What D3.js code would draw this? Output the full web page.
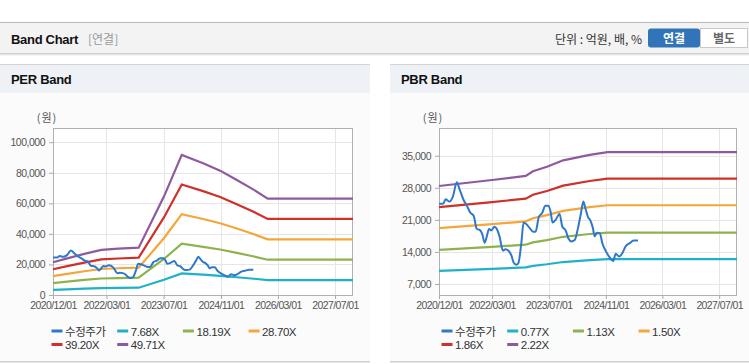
<!DOCTYPE html>
<html><head><meta charset="utf-8">
<script src="https://cdn.jsdelivr.net/npm/d3@7"></script>
<style>
body{margin:0;background:#fff;}
svg{display:block;font-family:"Liberation Sans",Arial,sans-serif;}
</style>
</head><body><svg id="c" width="749" height="364"></svg>
<script>
// ---------- DATA ----------
const xTickLabels = ["2020/12/01","2022/03/01","2023/07/01","2024/11/01","2026/03/01","2027/07/01"];
const xDomainLabels = ["2020/12/01","2027/12/01"];

const priceDates = ["2020/12/01","2021/01/05","2021/01/27","2021/03/01","2021/03/30","2021/05/03","2021/05/26","2021/06/29","2021/07/28","2021/08/26","2021/09/24","2021/10/22","2021/11/15","2021/12/07","2021/12/28","2022/01/16","2022/02/03","2022/02/22","2022/03/22","2022/04/11","2022/05/04","2022/06/02","2022/06/25","2022/07/18","2022/08/13","2022/09/02","2022/09/25","2022/10/12","2022/11/07","2022/11/27","2022/12/19","2023/01/18","2023/02/16","2023/03/09","2023/04/07","2023/05/05","2023/06/01","2023/06/28","2023/07/16","2023/08/02","2023/08/28","2023/10/01","2023/10/25","2023/11/22","2023/12/18","2024/01/10","2024/02/08","2024/03/07","2024/04/02","2024/04/22","2024/05/09","2024/06/01","2024/06/21","2024/07/13","2024/07/28","2024/08/17","2024/09/10","2024/10/02","2024/11/07","2024/12/04","2025/01/02","2025/01/25","2025/02/23","2025/03/22","2025/04/19","2025/05/24","2025/06/28","2025/08/04"];
const priceValues = [24500,24500,25500,25000,26100,29200,27700,25400,24100,22600,21900,19000,18800,17900,16000,17500,19000,18700,19500,19000,17400,14300,14600,14300,13300,11700,11200,11500,15900,20400,20100,19200,18400,18400,21700,22500,24100,24100,22800,20400,21000,22300,19500,18700,16800,16300,16600,19200,22500,25000,23600,21600,20900,19200,17400,18200,18100,15900,13900,12800,12000,13600,13000,13700,15200,15900,16500,16500];

// PER band
const perDates = ["2020/12/01","2021/04/01","2021/08/25","2022/01/17","2022/06/10","2022/12/01","2023/07/04","2023/12/03","2024/06/02","2024/10/25","2025/03/16","2025/08/10","2025/12/04","2027/12/01"];
const perLabels = ["7.68X","18.19X","28.70X","39.20X","49.71X"];
const per768  = [3306,3708,4156,4557,4681,4789,9949,14167,13318,12576,11634,10629,9749,9749];
const per1819 = [7831,8782,9843,10794,11087,11343,23565,33555,31543,29786,27554,25175,23090,23090];
const per2870 = [12355,13856,15530,17031,17493,17897,37181,52943,49769,46996,43475,39721,36432,36432];
const per3920 = [16875,18926,21211,23261,23892,24445,50784,72312,67977,64190,59380,54253,49760,49760];
const per4971 = [21400,24000,26900,29500,30300,31000,64400,91700,86200,81400,75300,68800,63100,63100];
const perYTicks = [0,20000,40000,60000,80000,100000];

// PBR band
const pbrDates = ["2020/12/01","2022/03/01","2022/12/15","2023/02/15","2023/06/15","2023/11/01","2024/06/15","2024/11/15","2027/12/01"];
const pbrLabels = ["0.77X","1.13X","1.50X","1.86X","2.22X"];
const pbr077 = [9850,10301,10614,10960,11307,11793,12209,12417,12417];
const pbr113 = [14456,15117,15576,16084,16594,17306,17917,18222,18222];
const pbr150 = [19189,20068,20676,21351,22027,22973,23784,24189,24189];
const pbr186 = [23795,24883,25638,26475,27314,28486,29492,29994,29994];
const pbr222 = [28400,29700,30600,31600,32600,34000,35200,35800,35800];
const pbrYTicks = [7000,14000,21000,28000,35000];

const priceLabel = "수정주가";
const colors = ["#2f78c9","#1fb1c8","#8cb34e","#f4a63a","#cf3029","#8e5a9f"];

// ---------- DRAW ----------
const parse = d3.timeParse("%Y/%m/%d");
const svg = d3.select("#c");
const KR = "'Noto Sans CJK KR','Noto Sans',sans-serif";
const BOLD = "'Liberation Sans',Arial,sans-serif";

// page header
const defs = svg.append("defs");
const g1 = defs.append("linearGradient").attr("id","sh").attr("x1",0).attr("x2",0).attr("y1",0).attr("y2",1);
g1.append("stop").attr("offset","0").attr("stop-color","#c8c8c8");
g1.append("stop").attr("offset","1").attr("stop-color","#ffffff");
svg.append("rect").attr("x",0).attr("y",22).attr("width",749).attr("height",31).attr("fill","#f3f3f3");
svg.append("rect").attr("x",0).attr("y",22).attr("width",749).attr("height",1).attr("fill","#b8b8b8");
svg.append("rect").attr("x",0).attr("y",53).attr("width",749).attr("height",3).attr("fill","url(#sh)");
svg.append("text").attr("x",11).attr("y",44).attr("font-size",13).attr("font-weight","bold")
  .attr("font-family",BOLD).attr("letter-spacing","-0.3").attr("fill","#111").text("Band Chart");
svg.append("text").attr("x",88).attr("y",44).attr("font-size",12).attr("font-family",KR).attr("fill","#999").text("[연결]");
svg.append("text").attr("x",642).attr("y",44).attr("text-anchor","end").attr("font-size",12).attr("font-family",KR).attr("fill","#333").text("단위 : 억원, 배, %");
svg.append("rect").attr("x",648).attr("y",28.5).attr("width",52).attr("height",19).attr("rx",3).attr("fill","#3274b8");
svg.append("rect").attr("x",700.5).attr("y",28.5).attr("width",47).attr("height",19).attr("fill","#fff").attr("stroke","#c8c8c8");
svg.append("text").attr("x",674).attr("y",43).attr("text-anchor","middle").attr("font-size",12).attr("font-weight","bold").attr("font-family",KR).attr("fill","#fff").text("연결");
svg.append("text").attr("x",724).attr("y",43).attr("text-anchor","middle").attr("font-size",12).attr("font-weight","bold").attr("font-family",KR).attr("fill","#666").text("별도");

function drawPanel(cfg){
  const p = svg.append("g");
  // panel
  p.append("rect").attr("x",cfg.px).attr("y",64).attr("width",cfg.pw).attr("height",298).attr("fill","#fbfbfb");
  p.append("rect").attr("x",cfg.px).attr("y",64).attr("width",cfg.pw).attr("height",29).attr("fill","#eef2f7");
  p.append("rect").attr("x",cfg.px).attr("y",64).attr("width",cfg.pw).attr("height",1).attr("fill","#d4d4d4");
  p.append("rect").attr("x",cfg.px).attr("y",361).attr("width",cfg.pw).attr("height",1.5).attr("fill","#cfcfcf");
  p.append("text").attr("x",cfg.px+11).attr("y",84).attr("font-size",13).attr("font-weight","bold")
    .attr("font-family",BOLD).attr("letter-spacing","-0.3").attr("fill","#111").text(cfg.title);

  const x = d3.scaleTime().domain(xDomainLabels.map(parse)).range([cfg.left, cfg.right]);
  const y = d3.scaleLinear().domain(cfg.yDomain).range([cfg.bottom, cfg.top]);

  p.append("rect").attr("x",cfg.left).attr("y",cfg.top).attr("width",cfg.right-cfg.left).attr("height",cfg.bottom-cfg.top).attr("fill","#fff");
  // grid
  p.selectAll(".gx").data(xTickLabels).join("line")
    .attr("x1",d=>Math.round(x(parse(d)))+0.5).attr("x2",d=>Math.round(x(parse(d)))+0.5)
    .attr("y1",cfg.top).attr("y2",cfg.bottom).attr("stroke","#e6e6e6");
  p.selectAll(".gy").data(cfg.yTicks).join("line")
    .attr("x1",cfg.left).attr("x2",cfg.right)
    .attr("y1",d=>Math.round(y(d))+0.5).attr("y2",d=>Math.round(y(d))+0.5).attr("stroke","#e6e6e6");

  // axes
  const ya = p.append("g").attr("transform",`translate(${cfg.left},0)`)
    .call(d3.axisLeft(y).tickValues(cfg.yTicks).tickSize(4).tickPadding(4).tickFormat(d3.format(",")));
  ya.select(".domain").remove();
  ya.selectAll("line").attr("stroke","#aaa");
  ya.selectAll("text").attr("font-size",10.5).attr("letter-spacing","-0.5").attr("fill","#555");
  const xa = p.append("g").attr("transform",`translate(0,${cfg.bottom})`)
    .call(d3.axisBottom(x).tickValues(xTickLabels.map(parse)).tickSize(4).tickPadding(3).tickFormat(d3.timeFormat("%Y/%m/%d")));
  xa.select(".domain").remove();
  xa.selectAll("line").attr("stroke","#aaa");
  xa.selectAll("text").attr("font-size",10.5).attr("letter-spacing","-0.6").attr("fill","#555");

  // frame
  p.append("rect").attr("x",cfg.left+0.5).attr("y",cfg.top+0.5).attr("width",cfg.right-cfg.left-1).attr("height",cfg.bottom-cfg.top)
    .attr("fill","none").attr("stroke","#b0b0b0");

  p.append("text").attr("x",cfg.left-6).attr("y",cfg.top-6).attr("text-anchor","middle").attr("font-size",11)
    .attr("letter-spacing","1").attr("font-family",KR).attr("fill","#555").text("(원)");

  // bands
  const bandDates = cfg.bandDates.map(parse);
  const line = d3.line().x(d=>x(d[0])).y(d=>y(d[1]));
  cfg.bands.forEach((vals,i)=>{
    p.append("path").datum(vals.map((v,j)=>[bandDates[j],v]))
      .attr("d",line).attr("fill","none").attr("stroke",colors[i+1]).attr("stroke-width",2.2);
  });
  const pline = d3.line().x(d=>x(d[0])).y(d=>y(d[1])).curve(d3.curveMonotoneX);
  p.append("path").datum(priceDates.map((d,j)=>[parse(d),priceValues[j]]))
    .attr("d",pline).attr("fill","none").attr("stroke",colors[0]).attr("stroke-width",2);

  // legend
  const items = [priceLabel].concat(cfg.labels);
  items.forEach((t,i)=>{
    const col = i%4, row = Math.floor(i/4);
    const lx = cfg.px + 51.5 + col*65.7, ly = 331 + row*13.5;
    p.append("line").attr("x1",lx).attr("x2",lx+11).attr("y1",ly).attr("y2",ly).attr("stroke",colors[i]).attr("stroke-width",3);
    p.append("text").attr("x",lx+13.5).attr("y",ly+4.5).attr("font-size",11.5).attr("letter-spacing","-0.4")
      .attr("font-family", i===0?KR:"'Liberation Sans',Arial,sans-serif").attr("fill","#333").text(t);
  });
}

drawPanel({px:0,pw:370,title:"PER Band",left:53,right:353,top:128,bottom:295,
  yDomain:[0,109300],yTicks:perYTicks,bandDates:perDates,bands:[per768,per1819,per2870,per3920,per4971],labels:perLabels});
drawPanel({px:390,pw:359,title:"PBR Band",left:439,right:737,top:128,bottom:295,
  yDomain:[4594,41060],yTicks:pbrYTicks,bandDates:pbrDates,bands:[pbr077,pbr113,pbr150,pbr186,pbr222],labels:pbrLabels});
</script></body></html>
